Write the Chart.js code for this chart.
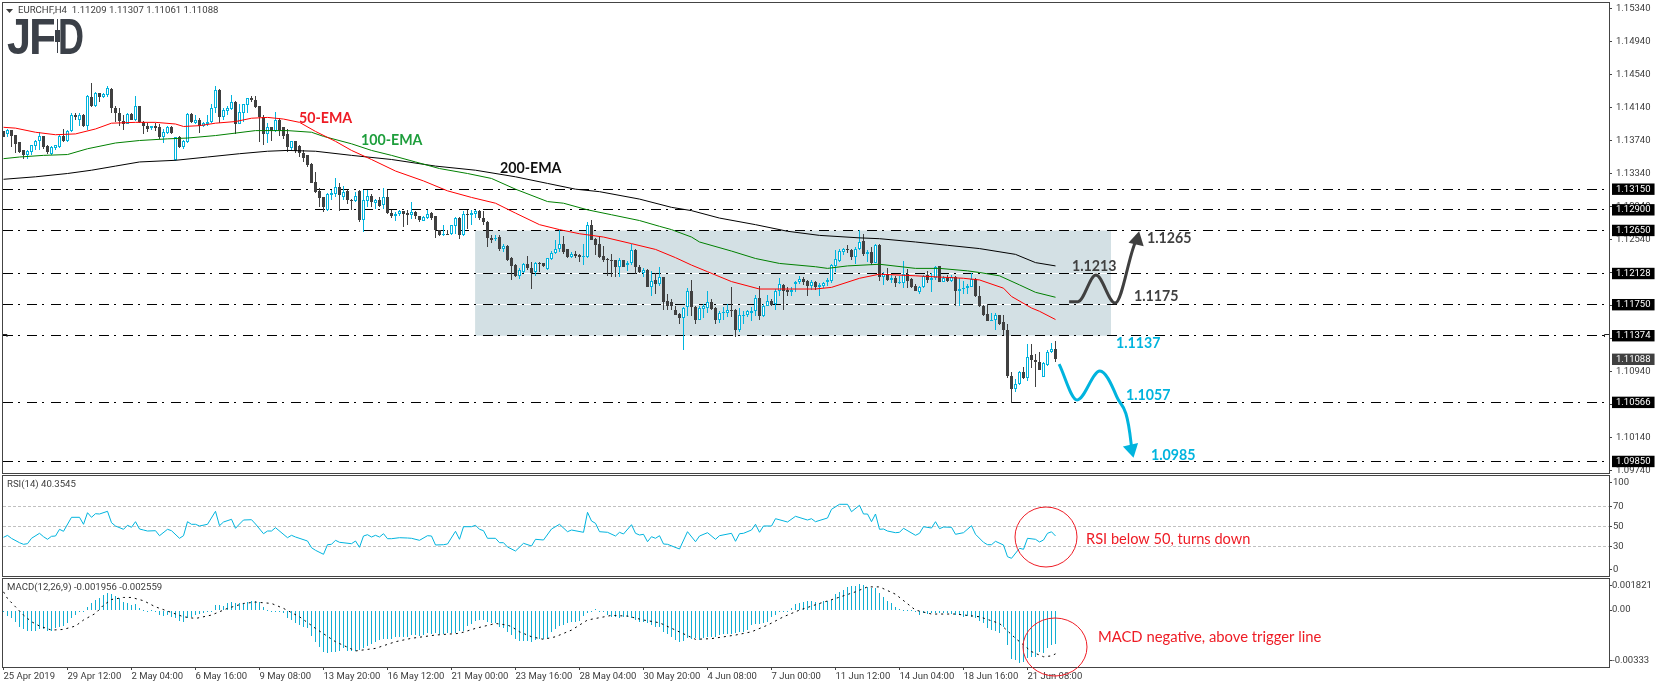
<!DOCTYPE html>
<html><head><meta charset="utf-8">
<style>html,body{margin:0;padding:0;background:#fff;overflow:hidden}
canvas{position:absolute;left:0;top:0}</style>
<script src="https://cdn.jsdelivr.net/npm/chart.js@4"></script>
</head><body>
<canvas id="main" width="1655" height="688"></canvas>
<canvas id="rsi" width="1655" height="688"></canvas>
<canvas id="macd" width="1655" height="688"></canvas>
<script>
// prices are in points: 11386 = 1.13860
const opens=[11386,11382,11387,11381,11372,11362,11357,11360,11367,11373,
11379,11367,11358,11365,11366,11380,11374,11386,11405,11399,
11405,11391,11427,11416,11431,11427,11429,11437,11414,11407,
11398,11394,11406,11399,11416,11397,11392,11389,11391,11390,
11378,11383,11390,11350,11378,11366,11372,11406,11395,11399,
11392,11394,11397,11414,11435,11402,11410,11412,11421,11394,
11407,11417,11426,11423,11416,11403,11382,11390,11386,11399,
11390,11382,11365,11373,11367,11359,11356,11346,11324,11313,
11306,11290,11308,11309,11318,11306,11313,11302,11301,11313,
11278,11301,11307,11298,11302,11296,11306,11286,11282,11285,
11288,11286,11284,11287,11282,11276,11280,11286,11282,11265,
11259,11261,11261,11270,11280,11259,11285,11284,11285,11288,
11280,11275,11256,11255,11257,11242,11246,11231,11223,11210,
11215,11224,11219,11215,11226,11225,11218,11230,11238,11242,
11248,11242,11233,11237,11235,11233,11233,11272,11255,11248,
11234,11230,11229,11229,11221,11229,11223,11225,11241,11221,
11213,11217,11196,11205,11200,11208,11179,11178,11169,11164,
11159,11172,11191,11172,11157,11170,11171,11178,11171,11156,
11165,11165,11169,11169,11144,11162,11162,11165,11167,11183,
11161,11174,11179,11176,11191,11199,11193,11190,11200,11202,
11206,11204,11198,11202,11197,11198,11202,11204,11222,11228,
11239,11242,11241,11233,11243,11252,11237,11239,11226,11247,
11208,11212,11205,11207,11201,11201,11212,11206,11198,11190,
11196,11211,11205,11207,11222,11203,11207,11204,11208,11191,
11194,11195,11197,11206,11186,11174,11164,11155,11156,11163,
11154,11144,11088,11073,11079,11093,11086,11114,11108,11106,
11087,11102,11118,11120.9];
const highs=[11386,11388,11387,11381,11372,11363,11363,11369,11375,11384,
11380,11369,11367,11369,11381,11388,11387,11407,11407,11407,
11406,11429,11444,11433,11432,11432,11440,11438,11416,11413,
11405,11407,11407,11428,11416,11398,11395,11392,11395,11394,
11388,11392,11392,11378,11380,11375,11407,11407,11405,11401,
11397,11405,11418,11440,11436,11414,11416,11429,11422,11418,
11418,11426,11428,11428,11416,11405,11395,11390,11409,11401,
11390,11388,11374,11374,11368,11362,11357,11347,11336,11316,
11306,11310,11314,11329,11323,11319,11314,11303,11312,11314,
11314,11314,11309,11303,11305,11317,11314,11290,11287,11290,
11289,11290,11299,11288,11283,11283,11290,11287,11282,11266,
11271,11265,11272,11281,11281,11289,11290,11290,11290,11290,
11288,11276,11259,11260,11259,11248,11247,11233,11224,11219,
11225,11234,11227,11227,11227,11225,11232,11240,11253,11265,
11258,11242,11239,11240,11237,11249,11275,11278,11256,11258,
11246,11232,11236,11229,11231,11229,11228,11249,11242,11223,
11219,11218,11216,11213,11221,11208,11188,11182,11174,11165,
11172,11195,11205,11173,11173,11176,11191,11182,11172,11167,
11172,11176,11196,11170,11171,11167,11169,11172,11187,11198,
11176,11187,11182,11194,11207,11200,11196,11196,11204,11210,
11208,11205,11205,11204,11201,11202,11207,11224,11241,11243,
11244,11247,11243,11245,11265,11261,11241,11245,11248,11249,
11215,11220,11211,11210,11210,11228,11218,11207,11200,11198,
11211,11216,11213,11222,11222,11210,11211,11211,11210,11207,
11204,11200,11213,11207,11198,11175,11176,11165,11165,11163,
11163,11152,11094,11085,11095,11099,11127,11127,11115,11118,
11106,11120,11128,11130.7];
const lows=[11378,11378,11366,11359,11359,11352,11351,11356,11362,11362,
11364,11358,11357,11362,11365,11372,11372,11384,11399,11392,
11390,11387,11415,11415,11421,11425,11427,11407,11397,11392,
11387,11394,11399,11398,11395,11382,11384,11387,11386,11376,
11371,11382,11382,11349,11365,11364,11371,11395,11394,11383,
11390,11391,11395,11407,11395,11399,11405,11411,11382,11394,
11397,11407,11421,11413,11372,11369,11371,11374,11384,11380,
11376,11360,11362,11359,11354,11348,11342,11322,11310,11294,
11287,11289,11302,11306,11289,11302,11297,11290,11299,11275,
11263,11293,11293,11291,11294,11291,11285,11280,11276,11282,
11269,11271,11279,11279,11275,11276,11279,11278,11256,11258,
11258,11259,11260,11261,11255,11258,11267,11272,11280,11278,
11272,11245,11250,11252,11240,11239,11228,11205,11209,11206,
11213,11217,11194,11210,11215,11221,11217,11229,11237,11239,
11237,11232,11231,11231,11227,11223,11232,11253,11235,11232,
11227,11210,11209,11208,11208,11221,11216,11223,11212,11213,
11208,11196,11185,11188,11198,11169,11169,11168,11162,11151,
11120,11161,11161,11152,11157,11159,11165,11169,11152,11153,
11157,11160,11160,11136,11142,11152,11160,11155,11161,11157,
11160,11173,11174,11169,11185,11168,11185,11185,11190,11200,
11199,11186,11193,11193,11186,11195,11198,11201,11215,11227,
11235,11238,11229,11224,11241,11234,11227,11223,11225,11204,
11199,11204,11201,11196,11200,11195,11195,11195,11191,11188,
11195,11201,11190,11205,11202,11202,11203,11203,11173,11173,
11188,11188,11196,11184,11172,11161,11155,11155,11144,11150,
11138,11086,11056,11069,11078,11085,11083,11098,11075,11096,
11087,11101,11116,11106.1];
const closes=[11378,11387,11380,11370,11360,11357,11361,11368,11374,11379,
11366,11360,11366,11368,11379,11374,11386,11405,11402,11405,
11391,11428,11416,11431,11427,11430,11438,11413,11407,11398,
11394,11406,11399,11416,11397,11392,11388,11391,11389,11378,
11384,11390,11383,11378,11366,11374,11406,11397,11399,11392,
11395,11397,11414,11435,11402,11411,11413,11421,11394,11408,
11418,11425,11423,11415,11403,11382,11390,11386,11399,11386,
11380,11366,11373,11361,11359,11353,11344,11323,11312,11304,
11294,11309,11310,11318,11308,11312,11302,11301,11307,11278,
11302,11307,11299,11302,11295,11306,11286,11282,11285,11288,
11285,11284,11287,11282,11278,11281,11285,11280,11265,11259,
11261,11260,11271,11280,11259,11285,11284,11286,11288,11280,
11275,11256,11254,11256,11242,11246,11229,11222,11210,11217,
11224,11219,11213,11226,11225,11222,11231,11238,11243,11248,
11239,11233,11237,11234,11233,11234,11272,11254,11247,11233,
11229,11229,11228,11221,11229,11221,11226,11241,11221,11215,
11217,11196,11204,11200,11208,11178,11174,11174,11163,11159,
11171,11191,11172,11157,11171,11173,11178,11170,11156,11165,
11166,11169,11168,11144,11162,11163,11167,11167,11183,11161,
11174,11179,11175,11191,11200,11192,11190,11193,11202,11206,
11203,11198,11202,11196,11199,11201,11205,11223,11230,11240,
11242,11241,11233,11243,11251,11237,11239,11226,11247,11208,
11212,11205,11207,11201,11203,11212,11204,11196,11192,11196,
11210,11205,11207,11221,11203,11207,11204,11208,11191,11194,
11195,11198,11206,11185,11173,11163,11155,11157,11163,11152,
11144,11088,11073,11079,11093,11086,11112,11108,11106,11096,
11104,11118,11121,11108.8];

const ema50Bars=[0,3,8,13,18,23,27,33,38,43,45,49,53,58,62,66,70,74,78,83,87,92,98,105,111,117,123,128,134,139,144,150,157,163,168,172,176,182,189,203,207,214,219,228,240,244,250,252,257,259,263];
const ema50=[11390,11389,11384,11381,11382,11388,11395,11396,11396,11394,11391,11392,11395,11397,11401,11402,11400,11396,11385,11373,11362,11351,11337,11325,11313,11305,11298,11286,11272,11266,11261,11257,11249,11242,11232,11223,11215,11203,11194,11194,11196,11207,11212,11210,11207,11205,11195,11185,11171,11167,11157];
const ema100Bars=[0,4,10,16,21,28,34,41,46,53,58,63,71,77,80,87,92,97,103,109,116,122,128,136,140,146,152,159,164,167,172,174,182,188,194,203,206,211,219,228,234,241,244,249,254,258,263];
const ema100=[11352,11354,11356,11357,11364,11371,11374,11376,11377,11380,11383,11386,11386,11384,11379,11370,11362,11356,11348,11340,11334,11328,11315,11300,11298,11290,11284,11277,11270,11266,11257,11251,11240,11231,11225,11221,11219,11222,11224,11219,11219,11216,11214,11210,11199,11190,11184];
const ema200Bars=[0,8,16,22,28,34,43,51,59,66,71,78,87,97,108,118,128,136,143,149,159,167,172,179,188,196,204,214,219,228,236,244,253,258,263];
const ema200=[11327,11330,11334,11338,11343,11348,11350,11354,11358,11361,11362,11361,11356,11351,11343,11338,11330,11322,11315,11312,11303,11293,11289,11280,11272,11264,11259,11256,11255,11251,11247,11243,11236,11226,11222];

const levels=[11315,11290,11265,11212.8,11175,11137.4,11056.6,10985];
const innerLevels=[11212.8,11175];
const lastPrice=11108.8;
const priceTicks=[11534,11494,11454,11414,11374,11334,11294,11254,11214,11174,11134,11094,11054,11014,10974];
const zoneBars=[117.9,276.9], zoneTop=11265, zoneBottom=11137.4;

const upPathBars=[266.4,268.6,273.1,277.9,282.9,283.4];
const upPath=[11178.6,11178.6,11211,11177,11250,11253.4];
const downPathBars=[263.9,268.4,274.1,278.3,281.9,282];
const downPath=[11103,11059.5,11094.6,11063.5,11007,11000];

const rsiBars=[0,1,2,4,5,6,7,9,10,11,12,13,14,15,17,19,20,21,22,23,24,26,27,28,30,31,32,33,34,35,36,38,39,41,42,44,45,46,47,48,49,51,53,54,55,57,58,59,60,62,63,65,66,67,68,71,72,73,76,77,78,80,81,82,83,84,87,88,89,90,91,92,93,94,95,96,97,99,101,102,104,106,107,108,110,111,113,114,115,117,118,119,120,121,123,124,125,126,128,130,132,133,135,137,139,141,142,145,146,147,148,149,151,153,154,155,157,158,159,160,161,162,163,164,165,166,169,171,173,174,176,178,179,182,183,184,185,187,188,189,190,192,193,196,198,201,202,203,206,207,209,211,212,214,215,216,217,218,219,220,221,223,224,225,228,229,230,232,233,234,235,237,238,240,242,243,245,246,247,248,250,251,252,254,255,256,258,259,260,261,262,263];
const rsiValues=[39,40.9,37.9,33.6,32,32.6,38,43,39.6,37,40,40.3,47,45,59,59,52,63.6,59,62.6,62.3,65,53.6,50.3,47,51,49,54.6,47.3,46.3,45.3,45.6,40.6,47,45.6,38,40.6,54.6,52,52,50.3,52,65,50.6,54.3,57,48,52.3,56.3,56.6,52.3,42.6,45.3,45.3,48.6,38.6,41,39.3,35.3,28.6,26,22,31.6,32,36,34,32.6,35.3,29,40.3,41.6,39.3,41,39.3,42.6,37.6,37.6,38.6,38.3,38,36,40.6,40.3,31.3,31.6,32.3,45,37,49.6,49.6,51,47,45.6,38,38,33.6,33.6,29.3,25.3,33,30.3,37,36.3,47.3,52,44.6,46.3,44,64,55.3,53,44.6,44,40.3,44,42.3,51.6,43,41.3,42,34.6,39.6,38,40.6,32.3,32,27.3,44.6,34.6,40.3,43.6,37,40.6,43,35,42.6,43,46.3,52,44,50.3,50.3,57.6,54.3,60,56.3,57.6,54.6,58.3,67,72,72,64.6,71,62.3,62.3,54.6,62.3,47,47.3,45.3,43.6,44,48,41,43,49.6,48.3,54.6,47.6,49.3,49,42,43.6,50.6,42,34,31.6,31.6,35,31.3,19.6,18,28,27,38,37,34.3,36.3,43,44.5,40.35];
const rsiLevels=[70,50,30];
const rsiTickValues=[94,70,50,30,7];
const rsiTickLabels=['100','70','50','30','0'];

// MACD values in units of 0.00001
const macdHist=[-6,-33,-45,-68,-97,-113,-123,-123,-123,-111,
-113,-121,-121,-107,-97,-93,-78,-49,-29,-12,
-6,19,39,58,72,88,101,97,82,68,
45,39,29,35,10,1,-4,1,-6,-29,
-33,-29,-39,-45,-64,-68,-49,-39,-29,-25,
-16,-6,-10,29,29,25,39,45,39,39,
39,47,51,51,47,19,1,-4,-4,-6,
-19,-49,-58,-78,-88,-97,-107,-152,-185,-214,
-243,-249,-247,-243,-238,-224,-238,-239,-238,-234,
-224,-210,-199,-185,-175,-171,-171,-169,-156,-156,
-160,-156,-146,-146,-150,-146,-132,-140,-132,-138,
-138,-136,-132,-136,-121,-121,-93,-82,-62,-58,
-58,-68,-74,-78,-97,-107,-127,-146,-171,-181,
-181,-181,-185,-175,-171,-171,-165,-127,-113,-93,
-88,-78,-70,-68,-64,-33,-16,-4,4,-4,
-10,-29,-39,-43,-49,-43,-43,-49,-55,-68,
-68,-78,-88,-97,-97,-127,-140,-156,-175,-185,
-181,-162,-169,-165,-175,-165,-156,-156,-156,-146,
-142,-140,-140,-132,-127,-127,-117,-88,-84,-82,
-78,-68,-43,-29,-10,-6,-6,10,33,43,
47,51,51,45,43,53,53,62,92,107,
119,136,140,144,152,146,136,132,132,101,
78,53,39,16,4,1,1,1,-10,-29,
-19,-23,-16,-19,-19,-19,-19,-23,-31,-31,
-39,-35,-39,-45,-64,-78,-107,-117,-123,-132,
-101,-204,-288,-292,-308,-302,-282,-276,-273,-245,
-253,-224,-204,-196];
const signalBars=[0,1,3,5,7,9,12,15,18,20,23,25,27,30,32,35,38,42,45,48,52,56,60,63,67,70,74,78,83,88,93,98,102,108,114,118,123,126,127,129,132,135,138,142,146,152,156,160,164,168,173,177,183,187,191,195,199,204,208,213,216,219,223,228,232,238,244,249,253,257,260,262,263];
const signalValues=[107,68,19,-29,-68,-93,-117,-113,-93,-58,-19,29,62,74,74,55,19,-14,-39,-49,-29,10,39,47,39,10,-39,-107,-185,-239,-224,-185,-165,-146,-136,-107,-78,-88,-97,-127,-156,-171,-156,-117,-58,-31,-35,-58,-74,-117,-171,-167,-146,-127,-88,-39,0,39,68,107,136,136,93,0,-23,-23,-39,-78,-165,-243,-273,-268,-256];
const macdTickValues=[146,0,-296];
const macdTickLabels=['0.001821','0.00','-0.00333'];

const dateBars=[0,16,32,48,64,80,96,112,128,144,160,176,192,208,224,240,256];
const dateLabels=['25 Apr 2019','29 Apr 12:00','2 May 04:00','6 May 16:00','9 May 08:00','13 May 20:00','16 May 12:00','21 May 00:00','23 May 16:00','28 May 04:00','30 May 20:00','4 Jun 08:00','7 Jun 00:00','11 Jun 12:00','14 Jun 04:00','18 Jun 16:00','21 Jun 08:00'];

const UP='#00B4DE', DOWN='#404040', TXT='#3c3c3c', FRAME='#444444', RED='#EE1C25';
const AXIS_FONT={family:'Roboto',size:9.5};
const X_MIN=-0.125, X_MAX=401.375;
const isUp=i=>closes[i]>=opens[i];
const pts=(xs,ys)=>xs.map((x,i)=>({x,y:ys[i]}));
const bars=opens.map((_,i)=>i);

const snapPlugin={id:'snap',beforeDatasetsDraw(chart){
  chart.getSortedVisibleDatasetMetas().forEach(m=>{
    if(m.type==='bar'){m.data.forEach(el=>{
      let a=Math.round(el.y),b=Math.round(el.base);
      if(a===b) b=a+1;
      el.y=a;el.base=b;});}
    else if(m.controller.getDataset().snapY){m.data.forEach(p=>{p.y=Math.floor(p.y)+.5;});}
  });
}};
const framePlugin={id:'frame',afterDraw(chart){
  const c=chart.ctx,a=chart.chartArea;
  c.save();c.strokeStyle=FRAME;c.lineWidth=1;
  c.strokeRect(a.left-.5,a.top-.5,a.right-a.left+1,a.bottom-a.top+1);
  c.restore();
}};
function writeText(c,t){
  c.font=t.font;c.fillStyle=t.color;c.textAlign='left';c.textBaseline='middle';
  c.fillText(t.text,t.x,t.y);
}
const mainTexts=[
 {text:'EURCHF,H4  1.11209 1.11307 1.11061 1.11088',x:18,y:10.5,color:TXT,font:'9.6px Roboto'},
 {text:'50-EMA',x:299,y:118,color:RED,font:'bold 14.2px Lato'},
 {text:'100-EMA',x:361,y:140,color:'#1E9E3C',font:'bold 14.2px Lato'},
 {text:'200-EMA',x:500,y:168,color:'#111111',font:'bold 14.2px Lato'},
 {text:'1.1265',x:1147,y:238,color:DOWN,font:'bold 14.2px Lato'},
 {text:'1.1213',x:1072,y:266,color:DOWN,font:'bold 14.2px Lato'},
 {text:'1.1175',x:1134,y:296,color:DOWN,font:'bold 14.2px Lato'},
 {text:'1.1137',x:1116,y:343,color:UP,font:'bold 14.2px Lato'},
 {text:'1.1057',x:1126,y:395,color:UP,font:'bold 14.2px Lato'},
 {text:'1.0985',x:1151,y:455,color:UP,font:'bold 14.2px Lato'}];
const mainDeco={id:'mainDeco',afterDraw(chart){
  const c=chart.ctx;c.save();
  c.fillStyle=TXT;c.beginPath();c.moveTo(6,9);c.lineTo(13,9);c.lineTo(9.5,13);c.closePath();c.fill();
  mainTexts.forEach(t=>writeText(c,t));
  // logo
  c.fillStyle='#3B4048';c.textBaseline='alphabetic';c.font='bold 50px "Liberation Sans"';
  c.fillText('J',7,54,24);c.fillText('F',29,54,28);c.fillText('D',58,54,26);
  c.fillStyle='#ffffff';c.fillRect(54,17,6,38);
  c.fillStyle='#3B4048';c.fillRect(57,19,1,34);c.fillRect(55,30,5,12);
  // small shift marks
  c.strokeStyle='#222';c.lineWidth=1;c.beginPath();
  c.moveTo(1604.5,337);c.lineTo(1604.5,334.5);c.lineTo(1609,334.5);
  c.moveTo(3,334.5);c.lineTo(7,334.5);c.lineTo(7,337);c.stroke();
  c.restore();
}};
const rsiDeco={id:'rsiDeco',afterDraw(chart){
  const c=chart.ctx;c.save();
  writeText(c,{text:'RSI(14) 40.3545',x:7,y:485,color:TXT,font:'9.6px Roboto'});
  writeText(c,{text:'RSI below 50, turns down',x:1086,y:539,color:RED,font:'14.6px Lato'});
  c.strokeStyle=RED;c.lineWidth=1;c.beginPath();c.ellipse(1046,537,31,30,0,0,Math.PI*2);c.stroke();
  c.restore();
}};
const macdDeco={id:'macdDeco',afterDraw(chart){
  const c=chart.ctx;c.save();
  writeText(c,{text:'MACD(12,26,9) -0.001956 -0.002559',x:7,y:587.5,color:TXT,font:'9.6px Roboto'});
  writeText(c,{text:'MACD negative, above trigger line',x:1098,y:637,color:RED,font:'14.8px Lato'});
  c.strokeStyle=RED;c.lineWidth=1;c.beginPath();c.ellipse(1055,647,32,29,0,0,Math.PI*2);c.stroke();
  c.restore();
}};

function noPad(s){s.paddingTop=0;s.paddingBottom=0;s.paddingLeft=0;s.paddingRight=0;}
function xScale(display){
  const s={type:'linear',min:X_MIN,max:X_MAX,offset:false,display,grid:{display:false,offset:false},border:{display:false}};
  if(display){Object.assign(s,{
    grid:{display:true,offset:false,drawOnChartArea:false,drawTicks:true,tickLength:3,tickColor:FRAME},
    afterBuildTicks(sc){sc.ticks=dateBars.map(value=>({value}));},
    afterFit(sc){sc.height=21;noPad(sc);},
    ticks:{autoSkip:false,maxRotation:0,minRotation:0,align:'start',padding:1,color:TXT,font:AXIS_FONT,
      callback:v=>dateLabels[dateBars.indexOf(v)]}
  });}
  return s;
}
function baseOptions(paddingTop,paddingBottom,x,y){
  return {responsive:false,animation:false,devicePixelRatio:1,events:[],
    layout:{autoPadding:false,padding:{left:3,right:0,top:paddingTop,bottom:paddingBottom}},
    plugins:{legend:{display:false},tooltip:{enabled:false},title:{display:false}},
    scales:{x,y}};
}
const flat={pointRadius:0,pointHitRadius:0,fill:false,tension:0};
const barBase={grouped:false,barPercentage:1,categoryPercentage:1,inflateAmount:0,borderSkipped:false};

// ---------- main pane
const boxed=new Set([...levels,lastPrice]);
const mainDatasets=[
 {type:'line',label:'zone',data:pts(zoneBars,[zoneTop,zoneTop]),...flat,borderWidth:0,borderColor:'transparent',
  fill:{value:zoneBottom},backgroundColor:'#D3E0E4',order:40},
 ...innerLevels.map(v=>({type:'line',label:'gap',snapY:true,data:pts(zoneBars,[v,v]),...flat,borderColor:'#ffffff',borderWidth:1,order:35})),
 ...levels.map(v=>({type:'line',label:'level',snapY:true,data:pts([X_MIN,X_MAX-1],[v,v]),...flat,borderColor:'#000000',borderWidth:1,borderDash:[10,5,2,7],order:30})),
 {type:'bar',label:'wick',...barBase,barThickness:1,order:12,
  data:bars.map(i=>({x:i,y:[lows[i],highs[i]]})),
  backgroundColor:c=>isUp(c.dataIndex)?UP:DOWN},
 {type:'bar',label:'body',...barBase,barThickness:3,borderWidth:1,order:10,
  data:bars.map(i=>({x:i,y:[Math.min(opens[i],closes[i]),Math.max(opens[i],closes[i])]})),
  backgroundColor:c=>isUp(c.dataIndex)?'#ffffff':DOWN,
  borderColor:c=>isUp(c.dataIndex)?UP:DOWN},
 {type:'line',label:'EMA200',data:pts(ema200Bars,ema200),...flat,borderColor:'#000000',borderWidth:1,order:6},
 {type:'line',label:'EMA100',data:pts(ema100Bars,ema100),...flat,borderColor:'#008000',borderWidth:1,order:5},
 {type:'line',label:'EMA50',data:pts(ema50Bars,ema50),...flat,borderColor:'#FF0000',borderWidth:1,order:4},
 {type:'line',label:'up',data:pts(upPathBars,upPath),fill:false,cubicInterpolationMode:'monotone',borderColor:DOWN,borderWidth:3,order:2,clip:false,
  pointRadius:c=>c.dataIndex===upPath.length-1?9:0,pointStyle:'triangle',pointRotation:13,pointBackgroundColor:DOWN,pointBorderColor:DOWN,pointBorderWidth:0},
 {type:'line',label:'down',data:pts(downPathBars,downPath),fill:false,cubicInterpolationMode:'monotone',borderColor:UP,borderWidth:3,order:1,clip:false,
  pointRadius:c=>c.dataIndex===downPath.length-1?9:0,pointStyle:'triangle',pointRotation:167,pointBackgroundColor:UP,pointBorderColor:UP,pointBorderWidth:0}
];
new Chart(document.getElementById('main'),{type:'bar',data:{datasets:mainDatasets},
 options:baseOptions(3,215,xScale(false),{
  type:'linear',position:'right',min:10971,max:11540.67,border:{display:false},
  grid:{drawOnChartArea:false,drawTicks:true,tickLength:3,tickColor:c=>c.tick&&boxed.has(c.tick.value)?'transparent':FRAME},
  afterBuildTicks(s){s.ticks=[...priceTicks,...levels,lastPrice].map(value=>({value}));},
  afterFit(s){s.width=46;noPad(s);},
  ticks:{autoSkip:false,padding:4,font:AXIS_FONT,
    color:c=>boxed.has(c.tick.value)?'#ffffff':TXT,
    showLabelBackdrop:c=>boxed.has(c.tick.value),
    backdropColor:c=>c.tick.value===lastPrice?'#404040':'#000000',
    backdropPadding:{left:4,right:4,top:0,bottom:0},
    callback:v=>(v/10000).toFixed(5)}
 }),plugins:[snapPlugin,framePlugin,mainDeco]});

// ---------- RSI pane
new Chart(document.getElementById('rsi'),{type:'line',data:{datasets:[
 ...rsiLevels.map(v=>({label:'lvl',snapY:true,data:pts([X_MIN,X_MAX],[v,v]),...flat,borderColor:'#C0C0C0',borderWidth:1,borderDash:[3,2],order:5})),
 {label:'RSI(14)',data:pts(rsiBars,rsiValues),...flat,borderColor:UP,borderWidth:1,order:1}
]},options:baseOptions(476,112,xScale(false),{
  type:'linear',position:'right',min:0.3,max:100.3,border:{display:false},
  grid:{drawOnChartArea:false,drawTicks:true,tickLength:3,tickColor:FRAME},
  afterBuildTicks(s){s.ticks=rsiTickValues.map(value=>({value}));},
  afterFit(s){s.width=46;noPad(s);},
  ticks:{autoSkip:false,padding:1,color:TXT,font:AXIS_FONT,callback:v=>rsiTickLabels[rsiTickValues.indexOf(v)]}
 }),plugins:[snapPlugin,framePlugin,rsiDeco]});

// ---------- MACD pane
new Chart(document.getElementById('macd'),{type:'bar',data:{datasets:[
 {type:'bar',label:'MACD',...barBase,barThickness:1,data:bars.map(i=>({x:i,y:macdHist[i]})),backgroundColor:'#12AED2',order:5},
 {type:'line',label:'Signal',data:pts(signalBars,signalValues),...flat,borderColor:'#000000',borderWidth:1,borderDash:[2,4],order:1}
]},options:baseOptions(579,0,xScale(true),{
  type:'linear',position:'right',min:-333,max:182.1,border:{display:false},
  grid:{drawOnChartArea:false,drawTicks:true,tickLength:3,tickColor:FRAME},
  afterBuildTicks(s){s.ticks=macdTickValues.map(value=>({value}));},
  afterFit(s){s.width=46;noPad(s);},
  ticks:{autoSkip:false,padding:0,color:TXT,font:{family:'Roboto',size:9.5},callback:v=>macdTickLabels[macdTickValues.indexOf(v)]}
 }),plugins:[snapPlugin,framePlugin,macdDeco]});
</script>
</body></html>
